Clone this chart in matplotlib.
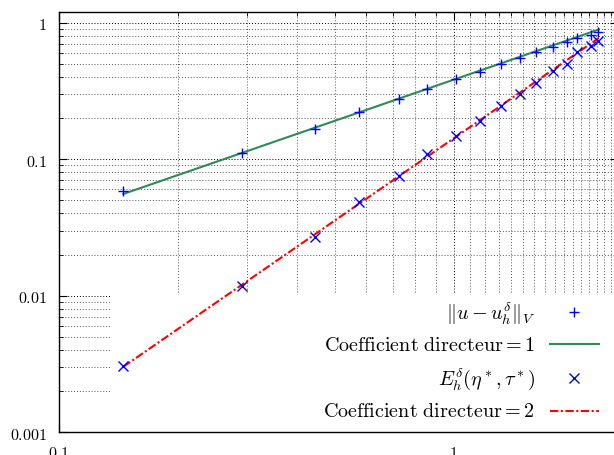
import numpy as np
import matplotlib
matplotlib.use("Agg")
import matplotlib.pyplot as plt
from matplotlib.patches import Rectangle
from matplotlib.lines import Line2D

plt.rcParams['mathtext.fontset'] = 'cm'
plt.rcParams['font.family'] = ['DejaVu Serif']

# mesh size h (x) and errors
h = [0.1458, 0.2906, 0.4456, 0.577, 0.7283, 0.8575, 1.0135, 1.1625,
     1.317, 1.476, 1.616, 1.779, 1.932, 2.048, 2.222, 2.323]
err_V = [0.0586, 0.1106, 0.165, 0.2197, 0.2748, 0.3267, 0.3847, 0.4365,
         0.4929, 0.5508, 0.6083, 0.6617, 0.714, 0.774, 0.8115, 0.8563]
err_E = [0.003044, 0.01172, 0.02675, 0.0482, 0.0755, 0.1093, 0.148, 0.1906,
         0.2454, 0.2988, 0.3597, 0.438, 0.501, 0.6095, 0.6675, 0.7333]

# reference slopes (end points)
slope1_x = [0.1458, 2.33]
slope1_y = [0.0556, 0.889]
slope2_x = [0.1458, 2.33]
slope2_y = [0.00302, 0.77]

labels = [r'$\Vert u - u_h^\delta \Vert_V$',
          r'$\mathrm{Coefficient\ directeur} = 1$',
          r'$E_h^\delta(\eta^*, \tau^*)$',
          r'$\mathrm{Coefficient\ directeur} = 2$']

green = '#2e8b57'
blue = '#0000ff'
red = '#ff0000'
dashdot = (0, (4, 1.2, 1, 1.2))

W, H = 614, 456
fig = plt.figure(figsize=(W / 100, H / 100), dpi=100)
left, right, bottom, top = 58.7, 617.6, 433.3, 12.7
ax = fig.add_axes([left / W, 1 - bottom / H, (right - left) / W, (bottom - top) / H])

ax.set_xscale('log')
ax.set_yscale('log')
ax.set_xlim(0.1, 2.6)
ax.set_ylim(0.001, 1.2)

xminor = [0.2, 0.3, 0.4, 0.5, 0.6, 0.7, 0.8, 0.9] + [round(1 + 0.1 * k, 1) for k in range(1, 16)]
ax.set_xticks([0.1, 1], labels=[r'$0.1$', r'$1$'])
ax.set_xticks(xminor, minor=True)
ax.set_xticklabels([], minor=True)
ymaj = [0.001, 0.01, 0.1, 1]
ax.set_yticks(ymaj, labels=[r'$0.001$', r'$0.01$', r'$0.1$', r'$1$'])
yminor = [m * d for d in [0.001, 0.01, 0.1] for m in range(2, 10)]
ax.set_yticks(yminor, minor=True)
ax.set_yticklabels([], minor=True)

ax.tick_params(which='both', direction='in', top=True, right=True, labelsize=11.5, color='black')
ax.tick_params(which='major', length=6, width=0.8)
ax.tick_params(which='minor', length=3, width=0.6)
ax.tick_params(axis='x', pad=8.5)
ax.tick_params(axis='y', pad=8.5)

ax.grid(True, which='major', color='black', lw=0.7, ls=(0, (1, 2)))
ax.grid(True, which='minor', color='#555555', lw=0.7, ls=(0, (1, 2)))
ax.set_axisbelow(True)
for s in ax.spines.values():
    s.set_linewidth(1.0)

# opaque key area
ax.add_patch(Rectangle((0.0936, 0.0), 0.95, 0.331, transform=ax.transAxes,
                       facecolor='white', edgecolor='none', zorder=1.5))

ax.plot(h, err_V, ls='none', marker='+', ms=6.5, mew=1.0, color=blue, zorder=4)
ax.plot(slope1_x, slope1_y, color=green, lw=1.5, zorder=3)
ax.plot(h, err_E, ls='none', marker='x', ms=6.5, mew=1.0, color=blue, zorder=4)
ax.plot(slope2_x, slope2_y, color=red, lw=1.5, ls=dashdot, zorder=3)

# key, right-justified text with sample on the right
tx = 0.8522
ys = [0.2853, 0.2099, 0.1284, 0.0513]
for lab, y in zip(labels, ys):
    ax.text(tx, y, lab, transform=ax.transAxes, ha='right', va='center', fontsize=14.5, zorder=5)
ax.plot([0.9225], [ys[0]], transform=ax.transAxes, ls='none', marker='+', ms=6.5, mew=1.0, color=blue, zorder=5, clip_on=False)
ax.add_line(Line2D([0.879, 0.9674], [ys[1]] * 2, transform=ax.transAxes, color=green, lw=1.5, zorder=5))
ax.plot([0.9225], [ys[2]], transform=ax.transAxes, ls='none', marker='x', ms=6.5, mew=1.0, color=blue, zorder=5, clip_on=False)
ax.add_line(Line2D([0.879, 0.9674], [ys[3]] * 2, transform=ax.transAxes, color=red, lw=1.5, ls=dashdot, zorder=5))

fig.savefig('out.png', dpi=100)
